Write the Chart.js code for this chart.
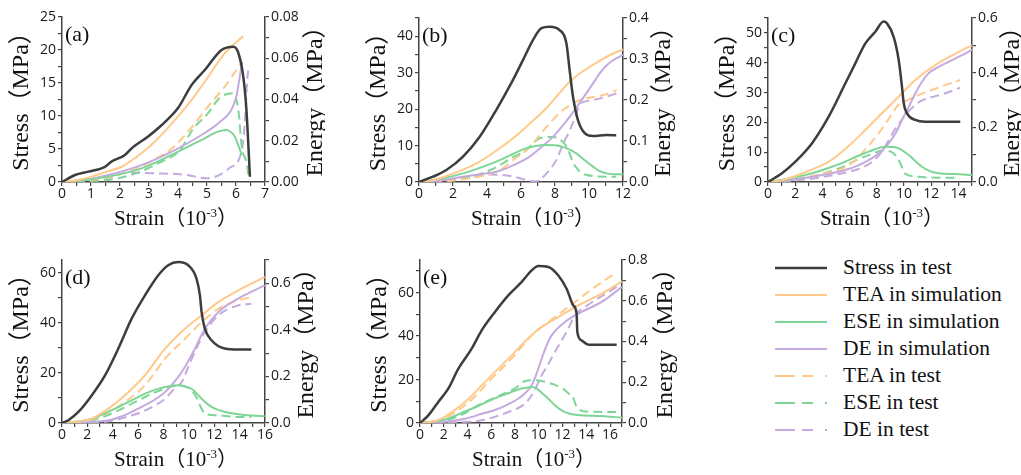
<!DOCTYPE html>
<html lang="en">
<head>
<meta charset="UTF-8">
<title>Stress and energy curves</title>
<script src="https://cdn.jsdelivr.net/npm/chart.js"></script>
<style>
  body { margin: 0; background: #fff; }
  #page { position: relative; width: 1021px; height: 475px; overflow: hidden; }
  #page canvas { position: absolute; }
  #legend { position: absolute; left: 775px; top: 254px; font-family: 'Liberation Serif', 'Times New Roman', serif; font-size: 21.5px; color: #111; }
  .row { height: 27px; display: flex; align-items: center; white-space: nowrap; }
  .row svg { width: 52px; height: 6px; margin-right: 16px; flex: none; }
</style>
</head>
<body>
<div id="page">
  <canvas id="pa"></canvas>
  <canvas id="pb"></canvas>
  <canvas id="pc"></canvas>
  <canvas id="pd"></canvas>
  <canvas id="pe"></canvas>
  <div id="legend"></div>
</div>
<script>
// axes of each panel
const panelNames = ['(a)', '(b)', '(c)', '(d)', '(e)'];
const strainMax = [7, 12, 15, 16, 17];
const strainStep = [1, 2, 2, 2, 2];
const stressMax = [25, 45, 55, 65, 75];
const stressStep = [5, 10, 10, 20, 20];
const energyMax = [0.08, 0.4, 0.6, 0.7, 0.8];
const energyStep = [0.02, 0.1, 0.2, 0.2, 0.2];
const energyDigits = [2, 1, 1, 1, 1];
const seriesNames = ['Stress in test', 'TEA in simulation', 'ESE in simulation', 'DE in simulation',
                     'TEA in test', 'ESE in test', 'DE in test'];

// (a)  [strain 1e-3, value]  stress in MPa, energies in MPa
const a_stress = [[0,0],[0.45,1.06],[0.91,1.57],[1.48,2.3],[1.71,3.1],[2.17,4.1],[2.4,5.1],[2.97,6.9],[3.43,8.6],[4.0,11.2],[4.47,14.7],[4.93,17.0],[5.5,20.0],[5.9,20.5],[6.07,19.7],[6.25,16.0],[6.36,10.9],[6.48,0.8]];
const a_teaSim = [[0,0],[0.5,0.0008],[1.02,0.0026],[1.5,0.0048],[2.06,0.0074],[2.74,0.0139],[3.32,0.0212],[3.89,0.030],[4.47,0.0398],[5.04,0.051],[5.61,0.0624],[6.25,0.0708]];
const a_eseSim = [[0,0],[0.8,0.001],[1.6,0.0026],[2.74,0.0066],[3.89,0.0139],[4.81,0.0204],[5.38,0.0244],[5.67,0.0252],[5.84,0.024],[5.96,0.022],[6.1,0.017],[6.2,0.013]];
const a_deSim = [[0,0],[0.8,0.001],[1.6,0.0034],[2.74,0.0082],[3.89,0.0155],[4.81,0.0228],[5.38,0.0284],[5.84,0.035],[6.01,0.0414],[6.13,0.051],[6.21,0.0583]];
const a_teaTest = [[0,0],[0.8,0.0008],[1.5,0.002],[2.5,0.006],[3.2,0.011],[3.85,0.017],[4.5,0.027],[5.0,0.036],[5.6,0.046],[6.15,0.057]];
const a_eseTest = [[0,0],[1.0,0.0005],[1.6,0.001],[2.0,0.002],[2.7,0.005],[3.3,0.009],[4.07,0.0155],[4.53,0.026],[4.99,0.0325],[5.45,0.041],[5.9,0.043],[6.08,0.035],[6.2,0.017],[6.37,0.009],[6.45,0.001]];
const a_deTest = [[0,0],[1.0,0.001],[1.6,0.002],[2.24,0.0045],[3.3,0.0042],[4.2,0.0036],[4.99,0.0018],[5.4,0.0032],[5.8,0.007],[6.1,0.011],[6.25,0.02],[6.33,0.035],[6.38,0.048],[6.42,0.054]];

// (b)
const b_stress = [[0,0],[0.82,1.46],[1.61,3.3],[2.59,6.95],[3.57,12.4],[4.55,19.8],[5.53,28.0],[6.12,33.5],[6.71,39.0],[7.2,42.2],[7.69,42.6],[8.27,41.7],[8.67,38.1],[8.86,30.7],[9.06,23.4],[9.35,17.0],[9.75,13.4],[10.24,12.6],[11.02,12.9],[11.6,12.8]];
const b_teaSim = [[0,0],[1,0.006],[1.61,0.0146],[2.6,0.03],[3.57,0.0496],[4.5,0.075],[5.53,0.1065],[6.5,0.142],[7.49,0.18],[8.2,0.214],[8.88,0.245],[9.7,0.272],[10.65,0.296],[11.3,0.311],[12,0.3236]];
const b_eseSim = [[0,0],[1.5,0.01],[2.59,0.021],[3.6,0.035],[4.55,0.0496],[5.4,0.066],[6.12,0.0797],[6.8,0.087],[7.49,0.09],[8.27,0.0878],[8.8,0.08],[9.25,0.07],[9.75,0.053],[10.24,0.0374],[10.6,0.027],[11.02,0.021],[11.5,0.019],[12.0,0.0187]];
const b_deSim = [[0,0],[1.5,0.005],[2.59,0.013],[3.6,0.019],[4.55,0.025],[5.5,0.04],[6.51,0.062],[7.2,0.085],[7.88,0.11],[8.4,0.135],[8.86,0.159],[9.35,0.187],[9.84,0.216],[10.23,0.24],[10.63,0.265],[11.0,0.283],[11.41,0.297],[12.0,0.31]];
const b_teaTest = [[0,0],[1.5,0.002],[2.5,0.006],[3.5,0.013],[4.2,0.02],[4.76,0.029],[5.55,0.054],[6.53,0.086],[7.51,0.135],[8.49,0.176],[9.47,0.2],[10.84,0.212],[11.63,0.224]];
const b_eseTest = [[0,0],[1.5,0.003],[2.5,0.008],[3.5,0.018],[4.5,0.035],[5.5,0.06],[6.33,0.078],[6.8,0.098],[7.1,0.1066],[7.9,0.11],[8.4,0.1],[8.69,0.086],[8.9,0.065],[9.08,0.046],[9.4,0.028],[9.86,0.017],[11.04,0.013],[11.6,0.013]];
const b_deTest = [[0,0],[1.5,0.002],[2.5,0.008],[3.5,0.014],[4.16,0.018],[4.9,0.017],[5.7,0.012],[6.3,0.005],[6.9,0.002],[7.5,0.021],[8.08,0.054],[8.5,0.095],[8.88,0.127],[9.2,0.16],[9.47,0.19],[10.0,0.198],[10.65,0.204],[11.63,0.216]];

// (c)
const c_stress = [[0,0],[1.03,2.9],[2.01,6.8],[3.24,13.0],[4.46,21.9],[5.69,33.1],[6.42,39.8],[7.16,46.5],[7.89,50.4],[8.5,53.8],[8.75,53.2],[9.24,48.7],[9.61,40.9],[9.85,32.0],[9.98,26.4],[10.22,23.0],[10.83,20.8],[11.57,20.2],[14.14,20.2]];
const c_teaSim = [[0,0],[1,0.006],[2.01,0.022],[3.2,0.045],[4.46,0.0744],[5.7,0.122],[6.91,0.178],[8.1,0.238],[9.36,0.3],[10.83,0.373],[12.3,0.428],[13.6,0.465],[15,0.5]];
const c_eseSim = [[0,0],[1.5,0.012],[3.24,0.0317],[4.5,0.052],[5.69,0.0744],[6.6,0.095],[7.4,0.111],[8.63,0.129],[9.2,0.128],[9.61,0.123],[10.34,0.099],[10.8,0.078],[11.32,0.056],[11.9,0.04],[12.55,0.0317],[13.77,0.029],[15,0.0256]];
const c_deSim = [[0,0],[1.5,0.006],[3.24,0.0195],[4.5,0.03],[5.69,0.044],[6.6,0.06],[7.4,0.08],[8.2,0.107],[8.87,0.141],[9.4,0.18],[9.85,0.227],[10.35,0.275],[10.83,0.324],[11.3,0.365],[11.81,0.398],[12.5,0.42],[13.28,0.44],[14.2,0.462],[15,0.483]];
const c_teaTest = [[0,0],[2,0.01],[4,0.03],[5.5,0.05],[6.3,0.075],[7.0,0.11],[7.6,0.145],[8.24,0.185],[9.0,0.24],[9.46,0.275],[10.4,0.303],[11.42,0.325],[12.5,0.345],[14.12,0.373]];
const c_eseTest = [[0,0],[2,0.008],[4,0.03],[5.5,0.055],[6.5,0.08],[7.5,0.1],[8.5,0.115],[9.0,0.112],[9.5,0.09],[9.8,0.06],[10.1,0.03],[10.8,0.02],[12.5,0.016],[14.1,0.016]];
const c_deTest = [[0,0],[2,0.005],[4,0.018],[5.29,0.03],[6.5,0.045],[7.5,0.068],[8.2,0.1],[8.73,0.14],[9.3,0.19],[9.8,0.225],[10.2,0.251],[10.8,0.28],[11.18,0.295],[12.0,0.31],[12.89,0.322],[14.12,0.345]];

// (d)
const d_stress = [[0,0],[0.5,1.1],[1.29,4.4],[2.34,11.0],[3.39,19.0],[4.44,29.7],[5.49,41.6],[6.54,50.9],[7.59,58.9],[8.37,62.9],[9.16,64.2],[9.95,62.9],[10.6,57.6],[10.87,50.9],[11.0,44.3],[11.26,37.6],[11.78,33.0],[12.83,29.7],[13.9,29.3],[14.93,29.3]];
const d_teaSim = [[0,0],[1.2,0.005],[2.34,0.0186],[3.65,0.0615],[4.96,0.119],[6.54,0.205],[8.12,0.319],[9.69,0.405],[11.0,0.462],[12.31,0.519],[14.15,0.577],[15.98,0.627]];
const d_eseSim = [[0,0],[1.2,0.006],[2.34,0.0186],[3.4,0.042],[4.44,0.0687],[5.4,0.095],[6.27,0.119],[7.2,0.14],[8.12,0.155],[9.16,0.162],[9.7,0.157],[10.2,0.147],[10.6,0.128],[11.0,0.104],[11.5,0.08],[12.05,0.0615],[12.8,0.048],[13.62,0.04],[15,0.032],[15.98,0.0286]];
const d_deSim = [[0,0],[2,0.003],[3.65,0.0114],[5,0.035],[6.27,0.0687],[7.3,0.1],[8.12,0.133],[8.9,0.18],[9.44,0.219],[10.0,0.27],[10.47,0.319],[11.26,0.405],[12.31,0.476],[13.88,0.534],[15.98,0.591]];
const d_teaTest = [[0,0],[2,0.01],[3.65,0.045],[4.96,0.09],[6.54,0.162],[8.12,0.276],[9.69,0.362],[11.0,0.433],[12.31,0.49],[13.88,0.526],[14.93,0.541]];
const d_eseTest = [[0,0],[2,0.008],[3.2,0.025],[4.17,0.047],[5.2,0.075],[6.27,0.104],[7.2,0.128],[8.12,0.147],[9.16,0.162],[9.8,0.155],[10.2,0.14],[10.6,0.11],[10.87,0.076],[11.26,0.04],[12.31,0.033],[13.62,0.026],[14.93,0.026]];
const d_deTest = [[0,0],[2,0.002],[3.65,0.007],[5,0.025],[6.27,0.047],[7.3,0.075],[8.12,0.104],[8.9,0.15],[9.44,0.176],[9.95,0.24],[10.47,0.305],[11.26,0.39],[12.31,0.462],[13.88,0.505],[14.93,0.512]];

// (e)
const e_stress = [[0,0],[0.7,3.5],[1.54,9.7],[2.38,15.8],[3.23,25.0],[4.35,34.2],[5.19,42.6],[6.31,51.1],[7.43,58.7],[8.56,64.9],[9.4,70.2],[9.96,72.2],[10.8,71.8],[11.64,67.9],[12.34,61.8],[12.9,54.1],[13.18,50.3],[13.24,41.9],[13.6,38.0],[14.17,36.0],[16.55,36.0]];
const e_teaSim = [[0,0],[1,0.006],[1.82,0.021],[2.8,0.058],[3.79,0.103],[4.8,0.16],[5.75,0.218],[7.71,0.332],[9.68,0.447],[11.64,0.52],[13.6,0.586],[15.29,0.635],[17.0,0.695]];
const e_eseSim = [[0,0],[1,0.008],[2.38,0.021],[3.3,0.045],[4.35,0.07],[5.5,0.1],[6.59,0.128],[7.6,0.15],[8.56,0.169],[9.4,0.177],[9.82,0.169],[10.3,0.145],[10.8,0.119],[11.3,0.09],[11.92,0.062],[12.6,0.045],[13.6,0.0376],[15.29,0.034],[17,0.026]];
const e_deSim = [[0,0],[2,0.005],[3.79,0.021],[5.2,0.045],[6.59,0.07],[7.5,0.095],[8.27,0.119],[8.9,0.15],[9.4,0.185],[9.8,0.24],[10.24,0.316],[10.65,0.38],[11.08,0.43],[12.2,0.496],[13.6,0.545],[15.29,0.594],[17,0.668]];
const e_teaTest = [[0,0],[1.5,0.01],[2.6,0.04],[3.79,0.087],[4.8,0.14],[5.75,0.201],[7.71,0.316],[9.4,0.43],[11.36,0.52],[13.04,0.594],[14.73,0.668],[16.55,0.74]];
const e_eseTest = [[0,0],[2,0.012],[3.5,0.04],[5,0.09],[6.5,0.13],[8,0.17],[8.8,0.205],[9.5,0.21],[10.3,0.205],[11.2,0.19],[12.0,0.17],[12.6,0.14],[12.86,0.129],[13.1,0.09],[13.3,0.07],[14.26,0.055],[16.5,0.054]];
const e_deTest = [[0,0],[2.5,0.003],[4,0.006],[5.19,0.013],[6.3,0.03],[7.43,0.054],[8.84,0.095],[9.4,0.136],[9.8,0.18],[10.24,0.234],[10.8,0.29],[11.36,0.349],[12.48,0.463],[13.04,0.529],[13.9,0.57],[14.73,0.602],[16.55,0.668]];

const panelSeries = [
  [a_stress, a_teaSim, a_eseSim, a_deSim, a_teaTest, a_eseTest, a_deTest],
  [b_stress, b_teaSim, b_eseSim, b_deSim, b_teaTest, b_eseTest, b_deTest],
  [c_stress, c_teaSim, c_eseSim, c_deSim, c_teaTest, c_eseTest, c_deTest],
  [d_stress, d_teaSim, d_eseSim, d_deSim, d_teaTest, d_eseTest, d_deTest],
  [e_stress, e_teaSim, e_eseSim, e_deSim, e_teaTest, e_eseTest, e_deTest]
];

// look
const lineColors = ['#3d3d3d', '#ffc98a', '#7dd596', '#c4aadd', '#ffc98a', '#7dd596', '#c4aadd'];
const lineWidths = [2.5, 2, 2, 2, 2, 2, 2];
const lineDashes = [[], [], [], [], [9, 5], [9, 5], [9, 5]];

// plot rectangles on the page: left, top, right, bottom
const plotBoxes = [[62, 17, 265, 182], [419, 18, 623, 182], [768, 18, 972, 182], [62, 260, 265, 423], [420, 260, 622, 423]];
const rightTitleGap = [51, 41, 41, 42, 44];
const ML = 56, MR = 60, MT = 12, XH = 22, PB = 30;

const axisColor = '#444';
const tickFont = { family: "'Open Sans', sans-serif", size: 14 };
const serif = "'Liberation Serif', 'Times New Roman', 'Noto Sans CJK SC', serif";

function isMajor(v, step) {
  const k = v / step;
  return Math.abs(k - Math.round(k)) < 1e-6;
}

const titlePlugin = {
  id: 'panelTitles',
  afterDraw(chart, args, opts) {
    const { ctx, chartArea: ca } = chart;
    const midY = (ca.top + ca.bottom) / 2;
    ctx.save();
    ctx.fillStyle = '#111';
    ctx.textAlign = 'center';
    ctx.textBaseline = 'middle';
    ctx.font = '24px ' + serif;

    ctx.save();
    ctx.translate(ca.left - 40, midY - 4);
    ctx.rotate(-Math.PI / 2);
    ctx.fillText('Stress（MPa）', 0, 0);
    ctx.restore();

    ctx.save();
    ctx.translate(ca.right + opts.gap, midY - 4);
    ctx.rotate(-Math.PI / 2);
    ctx.fillText('Energy（MPa）', 0, 0);
    ctx.restore();

    // Strain (10^-3)
    ctx.textAlign = 'left';
    ctx.textBaseline = 'alphabetic';
    const main = '21px ' + serif, sup = '13px ' + serif;
    ctx.font = main;
    const w1 = ctx.measureText('Strain（10').width;
    ctx.font = sup;
    const w2 = ctx.measureText('-3').width;
    let x = ca.left + 52;
    const base = ca.bottom + 43;
    ctx.font = main;
    ctx.fillText('Strain（10', x, base);
    x += w1;
    ctx.font = sup;
    ctx.fillText('-3', x, base - 8);
    x += w2;
    ctx.font = main;
    ctx.fillText('）', x, base);

    ctx.font = '22px ' + serif;
    ctx.textBaseline = 'middle';
    ctx.fillText(opts.label, ca.left + 3, ca.top + 18);
    ctx.restore();
  }
};

const canvasIds = ['pa', 'pb', 'pc', 'pd', 'pe'];

canvasIds.forEach((id, p) => {
  const [L, T, R, B] = plotBoxes[p];
  const cv = document.getElementById(id);
  cv.width = ML + (R - L) + MR;
  cv.height = MT + (B - T) + XH + PB;
  cv.style.left = (L - ML) + 'px';
  cv.style.top = (T - MT) + 'px';

  const datasets = panelSeries[p].map((pts, s) => ({
    label: seriesNames[s],
    data: pts.map(([x, y]) => ({ x, y })),
    yAxisID: s === 0 ? 'y' : 'y1',
    borderColor: lineColors[s],
    borderWidth: lineWidths[s],
    borderDash: lineDashes[s],
    pointRadius: 0,
    fill: false,
    cubicInterpolationMode: 'monotone'
  }));

  const xStep = strainStep[p], sStep = stressStep[p], eStep = energyStep[p];

  new Chart(cv.getContext('2d'), {
    type: 'line',
    data: { datasets },
    options: {
      responsive: false,
      animation: false,
      layout: { padding: { left: 0, right: 0, top: MT, bottom: PB } },
      plugins: {
        legend: { display: false },
        tooltip: { enabled: false },
        panelTitles: { label: panelNames[p], gap: rightTitleGap[p] }
      },
      scales: {
        x: {
          type: 'linear', min: 0, max: strainMax[p],
          border: { color: axisColor, width: 1.5 },
          grid: { drawOnChartArea: false, tickLength: 4, color: axisColor, lineWidth: 1.2 },
          ticks: {
            stepSize: xStep / 2, autoSkip: false, maxRotation: 0, padding: 0, includeBounds: false,
            color: '#1a1a1a', font: tickFont,
            callback: v => isMajor(v, xStep) ? String(Math.round(v)) : ''
          },
          afterFit: sc => { sc.height = XH; }
        },
        y: {
          type: 'linear', position: 'left', min: 0, max: stressMax[p],
          border: { color: axisColor, width: 1.5 },
          grid: { drawOnChartArea: false, tickLength: 4, color: axisColor, lineWidth: 1.2 },
          ticks: {
            stepSize: sStep / 2, autoSkip: false, padding: 2, includeBounds: false,
            color: '#1a1a1a', font: tickFont,
            callback: v => isMajor(v, sStep) ? String(Math.round(v)) : ''
          },
          afterFit: sc => { sc.width = ML; }
        },
        y1: {
          type: 'linear', position: 'right', min: 0, max: energyMax[p],
          border: { color: axisColor, width: 1.5 },
          grid: { drawOnChartArea: false, tickLength: 4, color: axisColor, lineWidth: 1.2 },
          ticks: {
            stepSize: eStep / 2, autoSkip: false, padding: 2, includeBounds: false,
            color: '#1a1a1a', font: tickFont,
            callback: v => isMajor(v, eStep) ? v.toFixed(energyDigits[p]) : ''
          },
          afterFit: sc => { sc.width = MR; }
        }
      }
    },
    plugins: [titlePlugin]
  });
});

// legend
const legendDash = ['', '', '', '', '20 7 11 12 2 20', '20 7 11 12 2 20', '20 7 11 12 2 20'];
const legend = document.getElementById('legend');
seriesNames.forEach((name, s) => {
  const row = document.createElement('div');
  row.className = 'row';
  row.innerHTML = '<svg viewBox="0 0 52 6"><line x1="0" y1="3" x2="52" y2="3" stroke="' + lineColors[s] +
    '" stroke-width="' + lineWidths[s] + '" stroke-dasharray="' + legendDash[s] + '"/></svg><span>' + name + '</span>';
  legend.appendChild(row);
});
</script>
</body>
</html>
